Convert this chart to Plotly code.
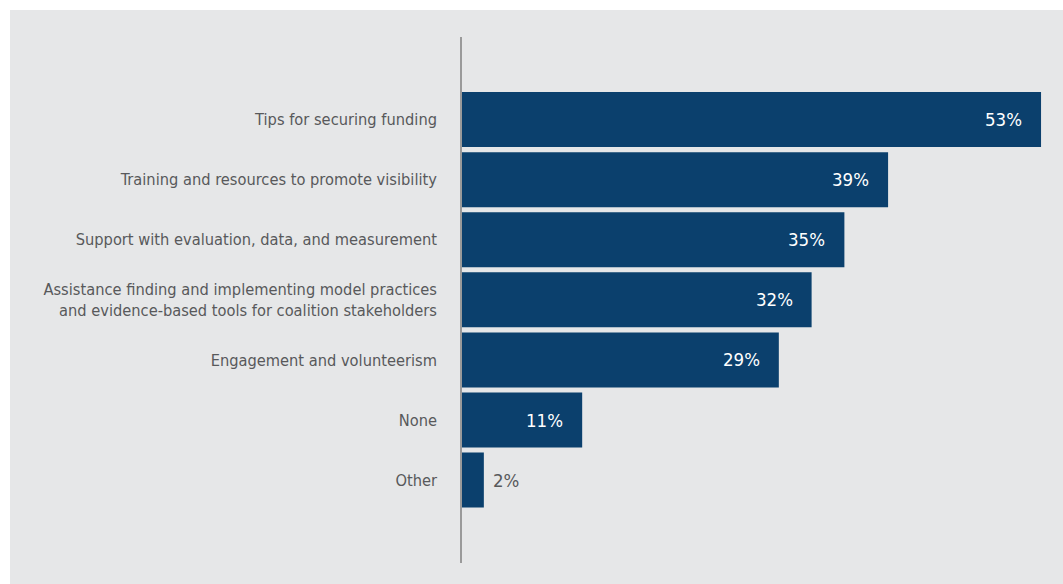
import plotly.graph_objects as go

categories = [
    "Tips for securing funding",
    "Training and resources to promote visibility",
    "Support with evaluation, data, and measurement",
    "Assistance finding and implementing model practices<br>and evidence-based tools for coalition stakeholders",
    "Engagement and volunteerism",
    "None",
    "Other",
]
values = [53, 39, 35, 32, 29, 11, 2]
value_labels = ["53%", "39%", "35%", "32%", "29%", "11%", "2%"]

BAR = "#0b406d"
BG = "#e6e7e8"
TXT = "#58595b"
FONT = "DejaVu Sans Condensed, Liberation Sans Narrow, Arial Narrow, sans-serif"

pos = list(range(len(categories)))

fig = go.Figure(
    go.Bar(
        x=values,
        y=pos,
        orientation="h",
        marker=dict(color=BAR, line=dict(width=0)),
        width=0.915,
        hoverinfo="skip",
    )
)

# value labels: inside the bar end for long bars, just outside for short ones
for p, v, lab in zip(pos, values, value_labels):
    inside = v >= 5
    fig.add_annotation(
        x=v,
        y=p,
        text=lab,
        showarrow=False,
        xanchor="right" if inside else "left",
        xshift=-17 if inside else 7,
        font=dict(family=FONT, size=18.5, color="white" if inside else TXT),
    )

# gray panel behind the chart
fig.add_shape(
    type="rect", xref="paper", yref="paper",
    x0=-452 / 601, x1=1.0, y0=-21 / 526, y1=1 + 27 / 526,
    fillcolor=BG, line=dict(width=0), layer="below",
)

fig.update_layout(
    width=1063,
    height=584,
    margin=dict(l=462, r=0, t=37, b=21, autoexpand=False),
    paper_bgcolor="white",
    plot_bgcolor=BG,
    showlegend=False,
    font=dict(family=FONT, color=TXT, size=16.3),
    xaxis=dict(
        range=[0, 55.01],
        showgrid=False,
        zeroline=False,
        showticklabels=False,
        showline=False,
        fixedrange=True,
        automargin=False,
    ),
    yaxis=dict(
        tickvals=pos,
        ticktext=categories,
        range=[6 + 1.38, -1.375],
        showgrid=False,
        zeroline=False,
        showline=True,
        linecolor="#9a9a9a",
        linewidth=1.5,
        ticks="",
        ticklabelstandoff=20,
        tickfont=dict(family=FONT, size=16.3, color=TXT),
        fixedrange=True,
        automargin=False,
    ),
)

fig.write_html("out.html")
